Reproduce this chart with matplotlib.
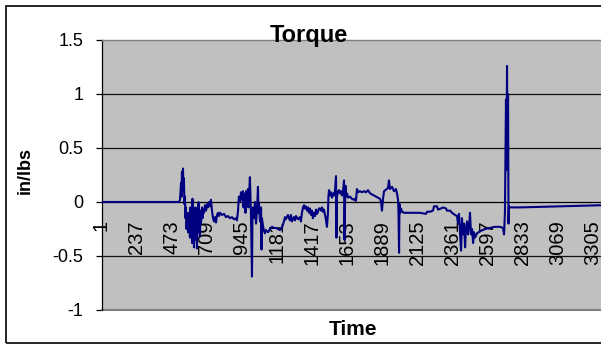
import matplotlib
matplotlib.use("Agg")
import matplotlib.pyplot as plt
from matplotlib.patches import Rectangle

plt.rcParams['font.family'] = ['Liberation Sans', 'DejaVu Sans']

# --- data (sample index, torque) ---
time_idx = [1, 522, 529, 536, 539, 542, 546, 549, 552, 555, 559, 562,
            566, 569, 573, 576, 583, 586, 589, 596,
            599, 603, 606, 610, 613, 616, 620, 623, 626, 630, 633, 636, 640, 643, 647, 650,
            653, 657, 660, 663, 667, 670, 677, 680, 684,
            690, 697, 704, 711, 717, 724, 731, 737,
            744, 751, 758, 764, 771, 778, 784, 791,
            798, 811, 825, 838, 851, 865, 878, 892, 905, 912,
            919, 925, 932, 939, 946,
            952, 956, 959, 966, 969, 973, 979, 986, 989, 993, 999, 1003,
            1006, 1013, 1016,
            1020, 1026, 1033, 1040, 1047, 1053, 1057, 1060, 1067, 1074, 1077, 1080, 1087,
            1094, 1100, 1107, 1121, 1134, 1147, 1161, 1174, 1188, 1201, 1214,
            1228, 1235, 1241, 1255, 1262,
            1268, 1275, 1282, 1295, 1302, 1309, 1322, 1336, 1342,
            1349, 1356, 1363, 1369, 1376, 1383, 1390, 1396,
            1403, 1410, 1416, 1423, 1430, 1437, 1443, 1450, 1457, 1463,
            1470, 1477, 1484, 1490, 1497, 1504, 1510, 1517, 1524, 1527, 1531, 1537, 1544,
            1551, 1558, 1564, 1571, 1578, 1581, 1584, 1591, 1598, 1605, 1611, 1618, 1625,
            1632, 1635, 1638, 1642, 1645, 1652, 1659, 1672, 1685, 1699, 1706, 1712, 1719,
            1726, 1739, 1753, 1766, 1780, 1793, 1807, 1820, 1834, 1847, 1860, 1874, 1881,
            1887, 1894, 1901, 1928, 1934, 1941, 1955, 1968, 1981, 1988, 1995, 1998, 2002,
            2005, 2008, 2015, 2022, 2035, 2076, 2143, 2183, 2190, 2210, 2230, 2237, 2257,
            2264, 2284, 2298, 2318, 2324, 2345, 2358, 2378, 2392, 2398, 2405, 2419, 2425,
            2432, 2439, 2446, 2452, 2459, 2466, 2473, 2479, 2486, 2493, 2500, 2506, 2513,
            2526, 2547, 2580, 2614, 2647, 2681, 2701, 2708, 2714, 2721, 2724, 2728, 2731,
            2735, 2738, 2741, 2748, 2815, 2950, 3084, 3219, 3360]

torque = [0.0, 0.0, 0.02, 0.18, 0.05, 0.28, 0.10, 0.31, 0.12, 0.22, -0.02, 0.05,
          -0.15, -0.05, -0.25, -0.12, -0.28, -0.10, -0.20, -0.33,
          -0.05, -0.30, -0.12, -0.38, 0.03, -0.25, -0.10, -0.42, -0.15, -0.30, -0.05, -0.35, -0.18, -0.43, -0.12, -0.28,
          0.00, -0.22, -0.10, -0.32, -0.08, -0.20, -0.05, -0.15, -0.07,
          -0.10, -0.03, -0.08, -0.02, -0.05, 0.00, -0.04, 0.02,
          -0.08, -0.15, -0.18, -0.14, -0.19, -0.12, -0.10, -0.13,
          -0.10, -0.12, -0.11, -0.14, -0.13, -0.15, -0.14, -0.16, -0.15, -0.17,
          -0.08, 0.05, 0.00, 0.09, 0.02,
          0.10, -0.05, 0.08, 0.05, -0.10, 0.10, 0.00, 0.12, -0.05, 0.05, 0.23, 0.02,
          -0.10, -0.69, -0.15,
          -0.05, -0.15, 0.00, -0.20, -0.08, 0.14, -0.10, -0.02, -0.18, -0.05, -0.44, -0.15, -0.22,
          -0.27, -0.29, -0.26, -0.28, -0.25, -0.23, -0.24, -0.24, -0.25, -0.26, -0.24,
          -0.18, -0.14, -0.16, -0.12, -0.15,
          -0.17, -0.12, -0.18, -0.14, -0.17, -0.13, -0.16, -0.14, -0.18,
          -0.10, -0.05, -0.03, -0.06, -0.04, -0.08, -0.05, -0.10,
          -0.06, -0.12, -0.08, -0.15, -0.10, -0.13, -0.07, -0.11, -0.09, -0.06,
          -0.06, -0.08, -0.05, -0.09, -0.07, -0.12, -0.16, -0.23, -0.10, 0.05, 0.11, 0.06, 0.09,
          0.04, 0.08, 0.06, 0.10, 0.24, -0.33, 0.05, 0.09, 0.11, 0.08, 0.10, 0.06, 0.10,
          0.20, -0.35, -0.05, 0.15, 0.05, 0.08, 0.04, 0.05, 0.03, 0.02, 0.03, 0.01, 0.12,
          0.09, 0.10, 0.09, 0.10, 0.09, 0.11, 0.08, 0.07, 0.06, 0.05, 0.04, 0.03, 0.00,
          -0.08, 0.03, 0.10, 0.13, 0.20, 0.12, 0.14, 0.10, 0.12, 0.08, 0.02, -0.08, -0.47,
          -0.02, -0.10, -0.06, -0.09, -0.10, -0.10, -0.10, -0.11, -0.09, -0.09, -0.08, -0.04, -0.04,
          -0.07, -0.06, -0.05, -0.06, -0.08, -0.08, -0.10, -0.12, -0.13, -0.20, -0.11, -0.45, -0.15,
          -0.30, -0.20, -0.42, -0.25, -0.18, -0.30, -0.22, -0.10, -0.30, -0.25, -0.38, -0.28, -0.33,
          -0.29, -0.27, -0.25, -0.24, -0.23, -0.23, -0.24, -0.30, -0.10, 0.95, 0.30, 1.26, 0.50,
          1.00, -0.20, -0.04, -0.05, -0.05, -0.045, -0.04, -0.035, -0.03]

xtick_labels = [1, 237, 473, 709, 945, 1181, 1417, 1653, 1889, 2125, 2361, 2597, 2833, 3069, 3305]
ytick_values = [-1, -0.5, 0, 0.5, 1, 1.5]
n_samples = 3360

W, H = 601, 345
fig = plt.figure(figsize=(W / 100, H / 100), dpi=100)
fig.patch.set_facecolor('white')

ax = fig.add_axes([101.5 / W, (H - 310) / H, (W - 101.5) / W, 270 / H])
ax.set_facecolor('#C0C0C0')
ax.set_xlim(1, n_samples)
ax.set_ylim(-1, 1.5)

# gridlines
for v in [0.5, 1.0, -0.5]:
    ax.axhline(v, color='#111111', lw=0.9, zorder=1)

ax.plot(time_idx, torque, color='#000080', lw=1.5, zorder=3)

# spines
ax.spines['bottom'].set_position(('data', 0))
ax.spines['bottom'].set_color('black')
ax.spines['bottom'].set_linewidth(0.9)
ax.spines['bottom'].set_zorder(2)
ax.spines['left'].set_color('black')
ax.spines['left'].set_linewidth(0.9)
ax.spines['top'].set_color('#808080')
ax.spines['top'].set_linewidth(1.0)
ax.spines['right'].set_visible(False)
ax.axhline(-1, color='#808080', lw=1.5, zorder=2, clip_on=False)

ax.set_yticks(ytick_values)
ax.set_yticklabels(['-1', '-0.5', '0', '0.5', '1', '1.5'], fontsize=13)
ax.tick_params(axis='y', direction='out', length=4.5, width=0.9, pad=8.5)

ax.set_xticks(xtick_labels)
ax.set_xticklabels([str(v) for v in xtick_labels], rotation=90, fontsize=14.5)
ax.tick_params(axis='x', length=0, pad=13)

fig.text(309 / W, (H - 42) / H, 'Torque', ha='center', va='baseline',
         fontsize=17, fontweight='bold')
fig.text(353 / W, (H - 335) / H, 'Time', ha='center', va='baseline',
         fontsize=15, fontweight='bold')
fig.text(25 / W, (H - 170) / H, 'in/lbs', ha='center', va='center',
         rotation=90, fontsize=13, fontweight='bold')

# outer chart border (right side lies beyond the canvas)
fig.add_artist(Rectangle((5.5 / W, (H - 343) / H), (W + 20) / W, 337.5 / H,
                         transform=fig.transFigure, fill=False,
                         edgecolor='black', lw=1.2, clip_on=False))

fig.savefig('out.png', dpi=100)
